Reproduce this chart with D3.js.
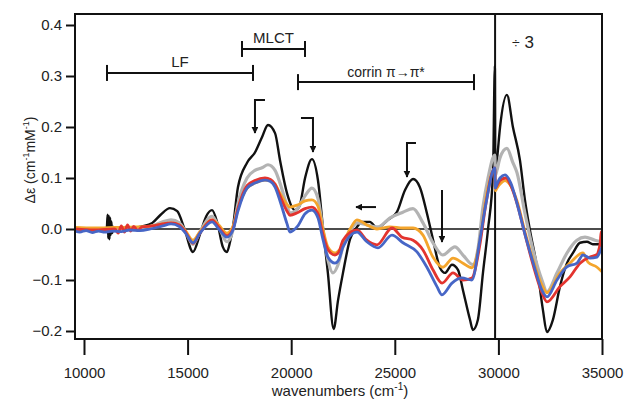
<!DOCTYPE html>
<html><head><meta charset="utf-8">
<script src="https://cdn.jsdelivr.net/npm/d3@7"></script>
<style>
html,body{margin:0;padding:0;background:#fff;}
svg{display:block;font-family:"Liberation Sans",Arial,sans-serif;}
</style></head>
<body><svg id="c" width="627" height="401"></svg>
<script>
// ---- data: [wavenumber (cm-1), delta epsilon] ----
const seriesBlack = [[9566,0.000],[10000,-0.003],[10500,-0.002],[11000,-0.003],[11100,0.0],[11140,0.028],[11170,-0.018],[11200,0.026],[11230,-0.02],[11260,0.022],[11290,-0.012],[11320,0.015],[11360,-0.008],[11420,0.004],[11600,0.0],[12200,0.002],[12800,0.005],[13300,0.012],[13700,0.028],[14150,0.041],[14500,0.035],[14850,0.0],[15260,-0.045],[15600,-0.01],[15900,0.025],[16180,0.037],[16450,0.01],[16700,-0.035],[16900,-0.045],[17050,-0.025],[17190,0.004],[17430,0.082],[17870,0.13],[18250,0.15],[18590,0.18],[18880,0.204],[19220,0.188],[19460,0.135],[19800,0.07],[20180,0.037],[20400,0.045],[20670,0.10],[21000,0.137],[21290,0.096],[21530,0.004],[21770,-0.086],[22050,-0.196],[22260,-0.14],[22500,-0.086],[22840,-0.02],[23175,0.004],[23420,0.014],[23800,0.014],[24140,0.002],[24670,0.018],[25100,0.033],[25490,0.076],[25880,0.098],[26210,0.082],[26550,0.031],[26840,-0.02],[27180,-0.076],[27420,-0.086],[27760,-0.07],[28050,-0.08],[28290,-0.12],[28630,-0.178],[28770,-0.198],[29010,-0.178],[29255,-0.086],[29500,0.0],[29740,0.11],[29830,0.32],[29850,0.11],[29930,0.135],[30080,0.2],[30410,0.263],[30700,0.2],[31040,0.135],[31280,0.057],[31520,-0.002],[31860,-0.074],[32150,-0.159],[32340,-0.202],[32630,-0.178],[32970,-0.113],[33310,-0.067],[33600,-0.047],[33940,-0.027],[34275,-0.025],[34560,-0.03],[34760,-0.03],[35000,-0.03]];
const seriesGray = [[9566,0.0],[10500,-0.002],[11500,0.0],[12500,0.002],[13300,0.006],[13800,0.014],[14200,0.018],[14600,0.012],[14900,-0.005],[15260,-0.03],[15600,-0.005],[16180,0.025],[16500,0.005],[16900,-0.025],[17190,-0.002],[17430,0.05],[17870,0.1],[18250,0.115],[18590,0.12],[18880,0.126],[19220,0.115],[19460,0.09],[19800,0.045],[19940,0.031],[20200,0.035],[20670,0.065],[21000,0.08],[21290,0.06],[21530,0.0],[21770,-0.06],[22017,-0.086],[22260,-0.07],[22500,-0.035],[22840,-0.005],[23175,0.012],[23650,0.008],[24190,0.004],[24770,0.022],[25390,0.033],[25880,0.04],[26360,0.012],[26840,-0.027],[27320,-0.051],[27900,-0.035],[28290,-0.051],[28770,-0.07],[29010,-0.04],[29255,0.043],[29500,0.1],[29830,0.145],[29850,0.105],[29930,0.115],[30080,0.14],[30410,0.158],[30700,0.13],[30900,0.11],[31280,0.031],[31670,-0.041],[32100,-0.1],[32340,-0.123],[32830,-0.086],[33310,-0.047],[33790,-0.022],[34180,-0.016],[34660,-0.022],[35000,-0.025]];
const seriesOrange = [[9566,0.003],[10500,0.002],[11500,0.003],[12500,0.004],[13300,0.006],[13800,0.01],[14200,0.012],[14600,0.008],[14900,-0.004],[15260,-0.022],[15600,-0.005],[16180,0.018],[16500,0.008],[16900,-0.008],[17190,0.005],[17430,0.04],[17870,0.08],[18250,0.09],[18735,0.096],[19000,0.094],[19220,0.088],[19460,0.07],[19800,0.048],[19940,0.043],[20300,0.047],[20670,0.055],[21000,0.057],[21290,0.045],[21530,0.0],[21770,-0.035],[22113,-0.047],[22350,-0.04],[22840,0.0],[23175,0.018],[23650,0.008],[24140,0.0],[24770,0.004],[25390,0.002],[25880,0.002],[26360,-0.012],[26840,-0.055],[27320,-0.075],[27810,-0.057],[28290,-0.067],[28720,-0.076],[29110,-0.022],[29400,0.06],[29830,0.118],[29850,0.075],[29930,0.08],[30080,0.088],[30320,0.095],[30500,0.09],[30900,0.055],[31280,-0.005],[31670,-0.06],[32100,-0.11],[32344,-0.125],[32970,-0.086],[33450,-0.067],[34080,-0.047],[34320,-0.065],[34760,-0.075],[35000,-0.084]];
const seriesRed = [[9566,0.0],[10500,-0.002],[11500,0.0],[11650,-0.008],[11800,0.006],[11950,-0.006],[12100,0.008],[12250,-0.004],[12400,0.005],[12600,-0.003],[12800,0.004],[13300,0.006],[13800,0.01],[14200,0.012],[14600,0.008],[14900,-0.006],[15260,-0.028],[15600,-0.008],[16180,0.018],[16500,0.004],[16900,-0.013],[17190,0.0],[17430,0.04],[17870,0.085],[18250,0.095],[18735,0.1],[19000,0.097],[19220,0.088],[19460,0.065],[19800,0.035],[19940,0.027],[20300,0.032],[20670,0.04],[21000,0.043],[21290,0.03],[21530,-0.01],[21770,-0.04],[22113,-0.051],[22300,-0.045],[22500,-0.022],[23175,-0.002],[23650,-0.022],[24140,-0.031],[24864,0.002],[25350,-0.016],[25880,-0.022],[26360,-0.041],[26840,-0.08],[27280,-0.106],[27810,-0.086],[28290,-0.1],[28720,-0.096],[29110,-0.03],[29400,0.05],[29830,0.12],[29850,0.08],[29930,0.085],[30080,0.095],[30360,0.1],[30600,0.085],[30900,0.05],[31280,-0.01],[31670,-0.07],[32100,-0.125],[32344,-0.143],[32970,-0.113],[33455,-0.094],[33940,-0.067],[34420,-0.055],[34760,-0.05],[34850,-0.04],[34920,-0.025],[34960,-0.005],[35000,-0.01]];
const seriesBlue = [[9566,-0.004],[9800,-0.006],[10100,-0.003],[10400,-0.007],[10700,-0.004],[11000,-0.006],[11400,-0.004],[11800,-0.005],[12200,-0.002],[12700,-0.003],[13200,0.0],[13800,0.006],[14200,0.01],[14600,0.005],[14900,-0.008],[15260,-0.027],[15600,-0.008],[16180,0.014],[16500,0.0],[16900,-0.016],[17190,-0.002],[17430,0.035],[17870,0.08],[18250,0.09],[18735,0.096],[19000,0.093],[19220,0.082],[19460,0.055],[19800,0.01],[19940,-0.006],[20300,0.005],[20670,0.03],[21000,0.037],[21290,0.022],[21530,-0.02],[21770,-0.055],[22113,-0.067],[22300,-0.06],[22500,-0.035],[23175,-0.006],[23650,-0.025],[24190,-0.037],[24864,-0.012],[25395,-0.027],[26070,-0.045],[26550,-0.075],[27036,-0.113],[27277,-0.129],[27760,-0.106],[28240,-0.096],[28720,-0.1],[29110,-0.02],[29400,0.05],[29830,0.12],[29850,0.08],[29930,0.088],[30080,0.1],[30317,0.106],[30600,0.09],[30900,0.05],[31280,-0.01],[31670,-0.065],[32100,-0.12],[32344,-0.133],[32827,-0.1],[33310,-0.074],[33792,-0.067],[34082,-0.051],[34420,-0.057],[34757,-0.055],[34900,-0.045],[35000,-0.035]];

const xTicks = [10000,15000,20000,25000,30000,35000];
const yTicks = [-0.2,-0.1,0.0,0.1,0.2,0.3,0.4];
const breakAt = 29840;

// annotations in data coordinates
const brackets = [
  {label:"LF", x0:11110, x1:18156, y:0.306, ty:0.318},
  {label:"MLCT", x0:17626, x1:20666, y:0.353, ty:0.365},
  {label:"corrin \u03C0\u2192\u03C0*", x0:20328, x1:28822, y:0.288, ty:0.298}
];
const hookArrows = [
  [[18735,0.253],[18252,0.253],[18252,0.188]],
  [[20472,0.2176],[21051,0.2176],[21051,0.151]],
  [[26022,0.1686],[25588,0.1686],[25588,0.102]],
  [[27277,0.0765],[27277,-0.0255]],
  [[24092,0.043],[23127,0.043]]
];

// ---- drawing ----
const svg = d3.select("#c");
const L=75,R=602,T=14,B=339;
const x = d3.scaleLinear().domain([9566,35000]).range([L,R]);
const y = d3.scaleLinear().domain([-0.2,0.4]).range([331,25]);

const defs = svg.append("defs");
defs.append("marker").attr("id","ah").attr("viewBox","0 0 10 10").attr("refX",9).attr("refY",5)
  .attr("markerWidth",7).attr("markerHeight",7).attr("markerUnits","userSpaceOnUse").attr("orient","auto")
  .append("path").attr("d","M0,0 L10,5 L0,10 z").attr("fill","#111");
defs.append("clipPath").attr("id","clip").append("rect").attr("x",L).attr("y",T).attr("width",R-L).attr("height",B-T);

// zero line and break line
svg.append("line").attr("x1",L).attr("x2",R).attr("y1",y(0)).attr("y2",y(0)).attr("stroke","#111").attr("stroke-width",1.6);
svg.append("line").attr("x1",x(breakAt)).attr("x2",x(breakAt)).attr("y1",T).attr("y2",B).attr("stroke","#111").attr("stroke-width",2);

const line = d3.line().x(d=>x(d[0])).y(d=>y(d[1])).curve(d3.curveMonotoneX);
const g = svg.append("g").attr("clip-path","url(#clip)");
const series = [
  {d:seriesBlack,c:"#111111",w:2.4},
  {d:seriesGray,c:"#b3b3b3",w:3.2},
  {d:seriesOrange,c:"#f4a52c",w:2.8},
  {d:seriesRed,c:"#e3342f",w:2.8},
  {d:seriesBlue,c:"#4766c6",w:2.8}
];
series.forEach(s=>{
  g.append("path").datum(s.d).attr("d",line).attr("fill","none")
   .attr("stroke",s.c).attr("stroke-width",s.w).attr("stroke-linejoin","round").attr("stroke-linecap","round");
});

// frame
svg.append("rect").attr("x",L).attr("y",T).attr("width",R-L).attr("height",B-T)
  .attr("fill","none").attr("stroke","#111").attr("stroke-width",2);

// x axis
const minor = d3.range(10000,35001,1000).filter(v=>v%5000!==0);
const xa = svg.append("g").attr("transform",`translate(0,${B})`);
xa.call(d3.axisBottom(x).tickValues(minor).tickSize(9).tickFormat(""));
xa.call(d3.axisBottom(x).tickValues(xTicks).tickSize(16).tickFormat(d3.format("d")));
xa.select(".domain").remove();
xa.selectAll("line").attr("stroke","#111").attr("stroke-width",2);
xa.selectAll("text").attr("y",28).attr("dy","0.71em").attr("font-size",15).attr("fill","#222").attr("font-family","Liberation Sans, Arial, sans-serif");

// y axis
const ya = svg.append("g").attr("transform",`translate(${L},0)`);
ya.call(d3.axisLeft(y).tickValues(yTicks).tickSize(9).tickPadding(4).tickFormat(d3.format(".1f")));
ya.select(".domain").remove();
ya.selectAll("line").attr("stroke","#111").attr("stroke-width",2);
ya.selectAll("text").attr("font-size",15).attr("fill","#222").attr("font-family","Liberation Sans, Arial, sans-serif");

// axis titles
const xt = svg.append("text").attr("x",340).attr("y",396).attr("text-anchor","middle").attr("font-size",15).attr("fill","#222");
xt.append("tspan").text("wavenumbers (cm");
xt.append("tspan").attr("dy",-6).attr("font-size",10).text("-1");
xt.append("tspan").attr("dy",6).text(")");

const yt = svg.append("text").attr("transform","translate(35,160) rotate(-90)").attr("text-anchor","middle").attr("font-size",14).attr("fill","#222");
yt.append("tspan").text("\u0394\u03B5 (cm");
yt.append("tspan").attr("dy",-6).attr("font-size",9).text("-1");
yt.append("tspan").attr("dy",6).text("mM");
yt.append("tspan").attr("dy",-6).attr("font-size",9).text("-1");
yt.append("tspan").attr("dy",6).text(")");

// brackets
brackets.forEach(b=>{
  const yy=y(b.y);
  svg.append("line").attr("x1",x(b.x0)).attr("x2",x(b.x1)).attr("y1",yy).attr("y2",yy).attr("stroke","#111").attr("stroke-width",2);
  [b.x0,b.x1].forEach(v=>svg.append("line").attr("x1",x(v)).attr("x2",x(v)).attr("y1",yy-8).attr("y2",yy+8).attr("stroke","#111").attr("stroke-width",2));
  svg.append("text").attr("x",(x(b.x0)+x(b.x1))/2).attr("y",y(b.ty)).attr("text-anchor","middle")
    .attr("font-size",b.label==="LF"?15:(b.label==="MLCT"?15:14)).attr("fill","#222").text(b.label);
});

// arrows
const al = d3.line().x(d=>x(d[0])).y(d=>y(d[1]));
hookArrows.forEach(a=>{
  svg.append("path").attr("d",al(a)).attr("fill","none").attr("stroke","#111").attr("stroke-width",2).attr("marker-end","url(#ah)");
});

// divide-by-3 label
const dt = svg.append("text").attr("x",x(30655)).attr("y",y(0.355)).attr("fill","#222").attr("font-size",17);
dt.append("tspan").attr("font-size",14).text("\u00F7");
dt.append("tspan").text(" 3");
</script></body></html>
